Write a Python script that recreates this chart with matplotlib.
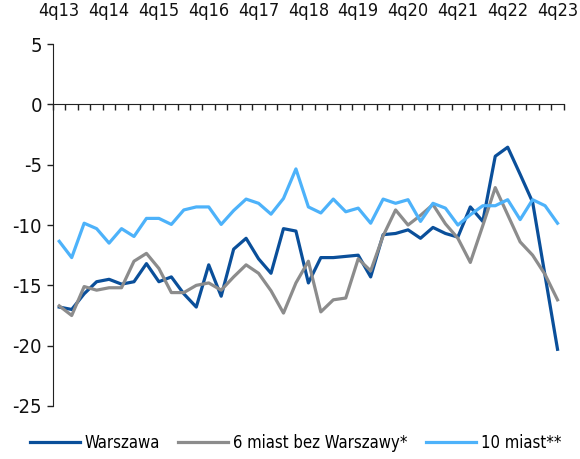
import matplotlib
matplotlib.use("Agg")
import matplotlib.pyplot as plt
from matplotlib import font_manager

# quarters 4q13 .. 4q23
quarters = ["4q13"] + [f"{q}q{y}" for y in range(14, 24) for q in (1, 2, 3, 4)]

warszawa = [-16.8, -17.0, -15.7, -14.7, -14.5, -14.9, -14.7, -13.2, -14.7, -14.3,
            -15.7, -16.8, -13.3, -15.9, -12.0, -11.1, -12.8, -14.0, -10.3, -10.5,
            -14.8, -12.7, -12.7, -12.6, -12.5, -14.3, -10.8, -10.7, -10.4, -11.1,
            -10.2, -10.7, -11.0, -8.5, -9.7, -4.3, -3.55, -5.8, -8.1, -14.2, -20.3]
miast6 = [-16.7, -17.5, -15.1, -15.4, -15.2, -15.2, -13.0, -12.35, -13.6, -15.6,
          -15.6, -15.0, -14.8, -15.4, -14.3, -13.3, -14.0, -15.45, -17.3, -14.8,
          -13.0, -17.2, -16.2, -16.05, -12.8, -13.8, -10.9, -8.75, -10.0, -9.2,
          -8.3, -9.9, -11.1, -13.1, -10.05, -6.9, -9.15, -11.4, -12.5, -14.1, -16.2]
miast10 = [-11.35, -12.7, -9.85, -10.3, -11.5, -10.3, -10.95, -9.45, -9.45, -9.95,
           -8.75, -8.5, -8.5, -9.95, -8.8, -7.85, -8.2, -9.1, -7.8, -5.35,
           -8.5, -9.0, -7.85, -8.9, -8.6, -9.85, -7.85, -8.2, -7.9, -9.7,
           -8.2, -8.6, -10.0, -9.15, -8.4, -8.4, -7.9, -9.55, -7.9, -8.4, -9.85]

series_names = ["Warszawa", "6 miast bez Warszawy*", "10 miast**"]
colors = ["#0a4f9a", "#8c8c8c", "#4db2fa"]

names = {f.name for f in font_manager.fontManager.ttflist}
condensed = any(f.name == "DejaVu Sans" and f.stretch == "condensed"
                for f in font_manager.fontManager.ttflist)
if "Liberation Sans Narrow" in names:
    plt.rcParams["font.family"] = ["Liberation Sans Narrow", "DejaVu Sans"]
    fs = 13
else:
    plt.rcParams["font.family"] = ["DejaVu Sans"]
    if condensed:
        plt.rcParams["font.stretch"] = "condensed"
        fs = 12
    else:
        fs = 11
plt.rcParams["font.size"] = fs
plt.rcParams["axes.unicode_minus"] = False

fig = plt.figure(figsize=(5.8, 4.59), dpi=100)
ax = fig.add_axes([0.0914, 0.1155, 0.8806, 0.7885])

x = list(range(len(quarters)))
for vals, name, c in zip([warszawa, miast6, miast10], series_names, colors):
    ax.plot(x, vals, color=c, lw=2.3, label=name)

ax.set_xlim(-0.5, len(quarters) - 0.5)
ax.set_ylim(-25, 5)
ax.set_yticks(range(-25, 6, 5))
ax.tick_params(axis="y", direction="out", length=4, width=1, colors="#222222",
               labelcolor="#111111", pad=4, labelsize=fs + 2.5)

for s in ["top", "right"]:
    ax.spines[s].set_visible(False)
ax.spines["bottom"].set_position(("data", 0))
ax.spines["left"].set_color("#222222")
ax.spines["bottom"].set_color("#222222")

# boundary ticks on the zero line
ax.set_xticks([i - 0.5 for i in range(len(quarters) + 1)])
ax.set_xticklabels([])
ax.tick_params(axis="x", direction="out", length=4, width=1, colors="#222222")

# quarter labels on top
top = ax.secondary_xaxis("top")
top.set_xticks(x[::4])
top.set_xticklabels(quarters[::4])
top.tick_params(length=0, pad=17, labelcolor="#111111", labelsize=fs + 1)
top.spines["top"].set_visible(False)

ax.legend(loc="upper center", bbox_to_anchor=(0.475, -0.035), ncol=3, frameon=False,
          handlelength=3.0, handletextpad=0.3, columnspacing=1.1, fontsize=fs)

fig.savefig("out.png", dpi=100)
